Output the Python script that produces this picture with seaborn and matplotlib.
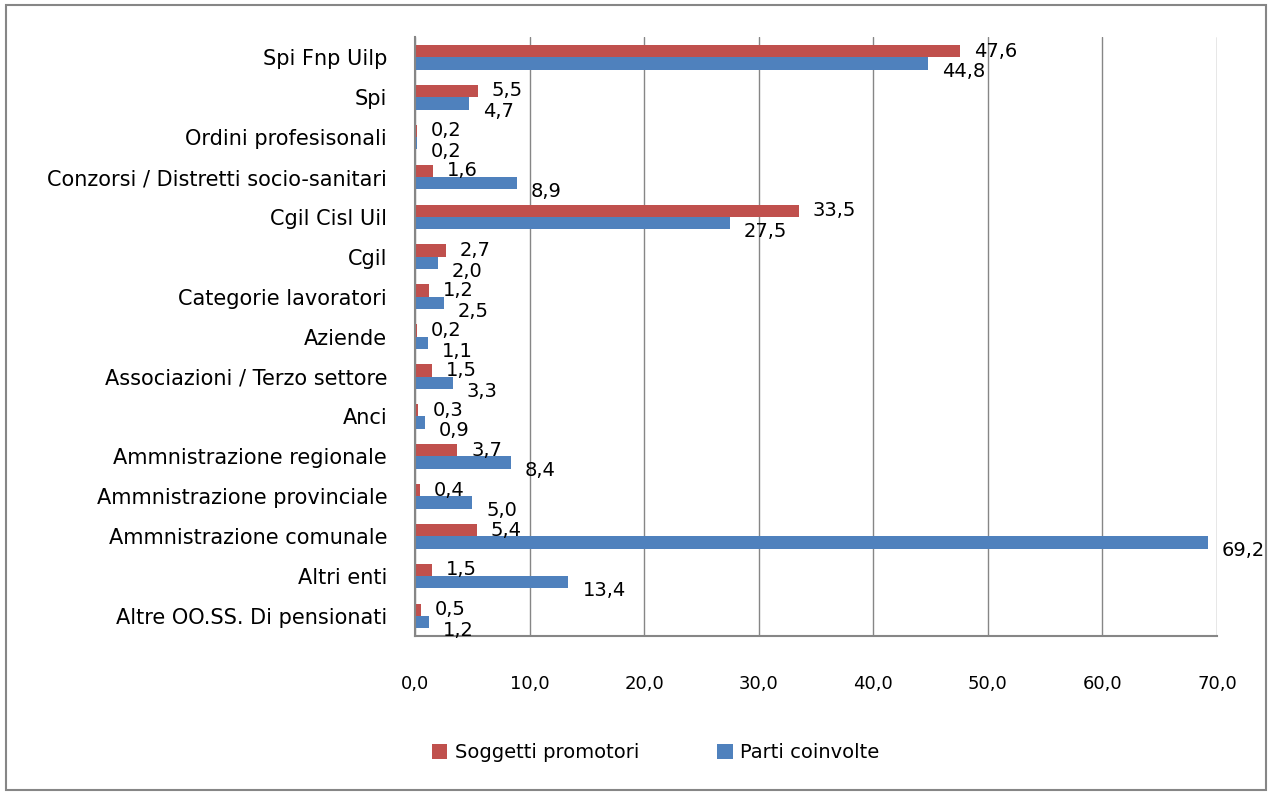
import matplotlib
matplotlib.use('Agg')
import matplotlib.pyplot as plt
import seaborn as sns
import pandas as pd
from matplotlib.patches import Rectangle

# Dati
categorie = ['Spi Fnp Uilp', 'Spi', 'Ordini profesisonali',
             'Conzorsi / Distretti socio-sanitari', 'Cgil Cisl Uil', 'Cgil',
             'Categorie lavoratori', 'Aziende', 'Associazioni / Terzo settore',
             'Anci', 'Ammnistrazione regionale', 'Ammnistrazione provinciale',
             'Ammnistrazione comunale', 'Altri enti', 'Altre OO.SS. Di pensionati']
promotori = [47.6, 5.5, 0.2, 1.6, 33.5, 2.7, 1.2, 0.2, 1.5, 0.3, 3.7, 0.4, 5.4, 1.5, 0.5]
coinvolte = [44.8, 4.7, 0.2, 8.9, 27.5, 2.0, 2.5, 1.1, 3.3, 0.9, 8.4, 5.0, 69.2, 13.4, 1.2]
serie = ['Soggetti promotori', 'Parti coinvolte']
xticks = [0, 10, 20, 30, 40, 50, 60, 70]

df = pd.DataFrame({
    'categoria': categorie * 2,
    'valore': promotori + coinvolte,
    'serie': [serie[0]] * len(categorie) + [serie[1]] * len(categorie),
})

sns.set_style('white')
plt.rcParams['font.family'] = ['Liberation Sans Narrow', 'DejaVu Sans']
plt.rcParams['text.color'] = 'black'

fig = plt.figure(figsize=(12.69, 7.94), dpi=100)
ax = fig.add_axes([0.327, 0.199, 0.632, 0.754])

sns.barplot(data=df, y='categoria', x='valore', hue='serie', order=categorie,
            hue_order=serie, palette=['#C0504D', '#4F81BD'], orient='h',
            width=0.62, saturation=1, linewidth=0, ax=ax, legend=True)

# Etichette dei valori
offsets = [(10, 0), (10, -6)]
for cont, off in zip(ax.containers, offsets):
    for bar in cont:
        w = bar.get_width()
        y = bar.get_y() + bar.get_height() / 2
        ax.annotate(f'{w:.1f}'.replace('.', ','), (w, y), xytext=off,
                    textcoords='offset points', va='center', ha='left',
                    fontsize=14, color='black')

ax.set_xlim(0, 70)
ax.set_ylim(len(categorie) - 0.5, -0.5)
ax.set_xticks(xticks)
ax.set_xticklabels([f'{v:.1f}'.replace('.', ',') for v in xticks],
                   fontsize=13, family='DejaVu Sans')
ax.set_xlabel('')
ax.set_ylabel('')
ax.tick_params(axis='y', length=0, labelsize=15, pad=20, labelcolor='black')
ax.set_yticks([i - 0.5 for i in range(len(categorie) + 1)], minor=True)
ax.tick_params(axis='y', which='minor', length=6, color='#868686', direction='out')
ax.tick_params(axis='x', length=6, color='#868686', direction='out', pad=22,
               labelcolor='black')
ax.grid(axis='x', color='#868686', linewidth=1)
ax.set_axisbelow(True)
for s in ['top', 'right']:
    ax.spines[s].set_visible(False)
for s in ['left', 'bottom']:
    ax.spines[s].set_color('#868686')
    ax.spines[s].set_linewidth(1.5)

leg = ax.legend(loc='upper center', bbox_to_anchor=(0.30, -0.15), ncol=2,
                frameon=False, fontsize=14, handlelength=0.8, handleheight=0.8,
                columnspacing=4, handletextpad=0.4)
for t in leg.get_texts():
    t.set_color('black')

fig.patches.append(Rectangle((0.005, 0.005), 0.993, 0.989, transform=fig.transFigure,
                             fill=False, edgecolor='#868686', linewidth=1.5))

fig.savefig('out.png', dpi=100)
